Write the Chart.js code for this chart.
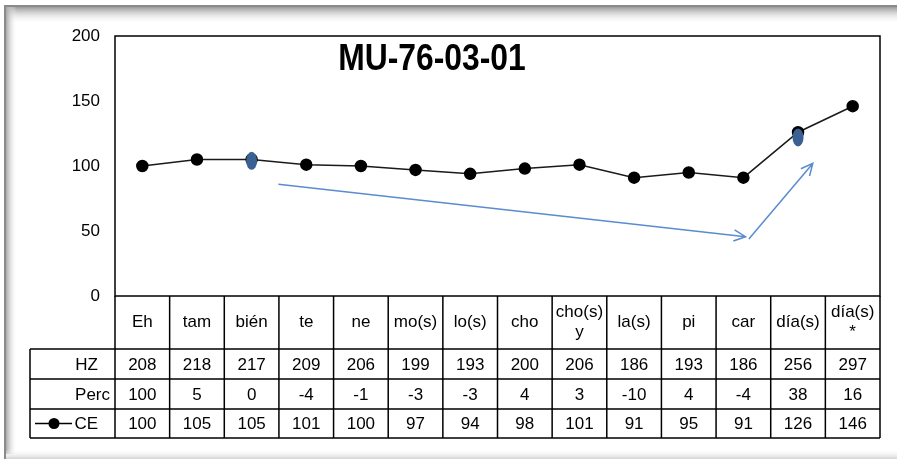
<!DOCTYPE html>
<html>
<head>
<meta charset="utf-8">
<script src="https://cdn.jsdelivr.net/npm/chart.js@4/dist/chart.umd.min.js"></script>
<style>
  html, body { margin: 0; padding: 0; background: #fff; }
  #wrap { width: 897px; height: 459px; }
</style>
</head>
<body>
<div id="wrap"><canvas id="myChart" width="897" height="459"></canvas></div>
<script>
// Datos
const categorias = ['Eh', 'tam', 'bién', 'te', 'ne', 'mo(s)', 'lo(s)', 'cho', ['cho(s)', 'y'], 'la(s)', 'pi', 'car', 'día(s)', ['día(s)', '*']];
const hz = [208, 218, 217, 209, 206, 199, 193, 200, 206, 186, 193, 186, 256, 297];
const perc = [100, 5, 0, -4, -1, -3, -3, 4, 3, -10, 4, -4, 38, 16];
const ce = [100, 105, 105, 101, 100, 97, 94, 98, 101, 91, 95, 91, 126, 146];
const yMin = 0;
const yMax = 200;
const yStep = 50;
const titulo = 'MU-76-03-01';

// marcas azules (indice, valor) y flechas (x1, y1, x2, y2) en unidades de los datos
const marcasIdx = [2, 12];
const marcasVal = [104, 122];
const flechas = [
  [2.49, 86, 11.04, 45.6],
  [11.1, 43.8, 12.27, 102]
];

const ctx = document.getElementById('myChart');
const fuente = "'Liberation Sans', Arial, sans-serif";

/* Marco exterior */
const marcoPlugin = {
  id: 'marco',
  beforeDraw(chart) {
    const c = chart.ctx;
    const w = chart.width, h = chart.height;
    c.save();
    c.fillStyle = '#fff';
    c.fillRect(0, 0, w, h);
    let g = c.createLinearGradient(0, 7, 0, 24);
    g.addColorStop(0, '#9a9a9a');
    g.addColorStop(1, 'rgba(255,255,255,0)');
    c.fillStyle = g;
    c.fillRect(6, 7, w - 6, 17);
    g = c.createLinearGradient(6, 0, 17, 0);
    g.addColorStop(0, '#a8a8a8');
    g.addColorStop(1, 'rgba(255,255,255,0)');
    c.fillStyle = g;
    c.fillRect(6, 7, 11, h - 12);
    g = c.createLinearGradient(0, 449, 0, h);
    g.addColorStop(0, 'rgba(255,255,255,0)');
    g.addColorStop(1, '#d4d4d4');
    c.fillStyle = g;
    c.fillRect(6, 449, w - 6, h - 449);
    c.fillStyle = '#8a8a8a';
    c.fillRect(4, 5, w - 4, 2);
    c.fillRect(4, 5, 2, h - 5);
    c.restore();
  }
};

/* Tabla de datos, título y anotaciones */
const tablaPlugin = {
  id: 'tabla',
  afterDraw(chart) {
    const c = chart.ctx;
    const xs = chart.scales.x;
    const ys = chart.scales.y;
    const area = chart.chartArea;
    const n = categorias.length;
    const bordes = [area.left];
    for (let i = 1; i < n; i++) {
      bordes.push((xs.getPixelForValue(i - 1) + xs.getPixelForValue(i)) / 2);
    }
    bordes.push(area.right);

    const filaCat = area.bottom + 53;
    const alto = [30, 30, 29];
    const filas = [filaCat, filaCat + alto[0], filaCat + alto[0] + alto[1], filaCat + alto[0] + alto[1] + alto[2]];
    const izq = 30;

    c.save();
    c.strokeStyle = '#000';
    c.lineWidth = 1.5;
    // borde del área del gráfico
    c.strokeRect(area.left, area.top, area.right - area.left, area.bottom - area.top);
    // líneas verticales
    c.beginPath();
    bordes.forEach(b => {
      c.moveTo(b, area.bottom);
      c.lineTo(b, filas[3]);
    });
    c.moveTo(izq, filas[0]);
    c.lineTo(izq, filas[3]);
    filas.forEach(f => {
      c.moveTo(izq, f);
      c.lineTo(area.right, f);
    });
    c.stroke();

    // valores
    c.fillStyle = '#000';
    c.font = '17px ' + fuente;
    c.textAlign = 'center';
    c.textBaseline = 'middle';
    const series = [hz, perc, ce];
    series.forEach((s, r) => {
      const yc = (filas[r] + filas[r + 1]) / 2 + 1;
      s.forEach((v, i) => {
        c.fillText(String(v), xs.getPixelForValue(i), yc);
      });
    });
    c.textAlign = 'right';
    c.fillText('HZ', 98, (filas[0] + filas[1]) / 2 + 1);
    c.fillText('Perc', 110, (filas[1] + filas[2]) / 2 + 1);
    c.fillText('CE', 98, (filas[2] + filas[3]) / 2 + 1);
    // clave de la leyenda
    const yl = (filas[2] + filas[3]) / 2;
    c.beginPath();
    c.lineWidth = 1.5;
    c.moveTo(35, yl);
    c.lineTo(72, yl);
    c.stroke();
    c.beginPath();
    c.arc(54, yl, 5.5, 0, Math.PI * 2);
    c.fill();

    // título
    c.save();
    c.translate(432, 60);
    c.scale(0.86, 1);
    c.font = 'bold 37px ' + fuente;
    c.textAlign = 'center';
    c.textBaseline = 'middle';
    c.fillText(titulo, 0, 0);
    c.restore();

    // flechas azules
    c.strokeStyle = '#5b8bd0';
    c.lineWidth = 1.5;
    flechas.forEach(f => {
      const x1 = xs.getPixelForValue(f[0]), y1 = ys.getPixelForValue(f[1]);
      const x2 = xs.getPixelForValue(f[2]), y2 = ys.getPixelForValue(f[3]);
      const ang = Math.atan2(y2 - y1, x2 - x1);
      c.beginPath();
      c.moveTo(x1, y1);
      c.lineTo(x2, y2);
      c.moveTo(x2 - 13 * Math.cos(ang - 0.45), y2 - 13 * Math.sin(ang - 0.45));
      c.lineTo(x2, y2);
      c.lineTo(x2 - 13 * Math.cos(ang + 0.45), y2 - 13 * Math.sin(ang + 0.45));
      c.stroke();
    });

    // marcas azules
    c.fillStyle = '#3a6191';
    marcasIdx.forEach((idx, k) => {
      c.beginPath();
      c.ellipse(xs.getPixelForValue(idx), ys.getPixelForValue(marcasVal[k]), 5.5, 9, 0, 0, Math.PI * 2);
      c.fill();
    });
    c.restore();
  }
};

const config = {
  type: 'line',
  data: {
    labels: categorias,
    datasets: [{
      label: 'CE',
      data: ce,
      borderColor: '#1a1a1a',
      borderWidth: 1.5,
      backgroundColor: '#000',
      pointBackgroundColor: '#000',
      pointBorderColor: '#000',
      pointRadius: 5.5,
      pointHoverRadius: 5.5,
      tension: 0
    }]
  },
  options: {
    responsive: false,
    animation: false,
    events: [],
    layout: {
      padding: { top: 36, right: 17, bottom: 110, left: 0 }
    },
    plugins: {
      legend: { display: false },
      tooltip: { enabled: false },
      title: { display: false }
    },
    scales: {
      x: {
        type: 'category',
        offset: true,
        grid: { display: false },
        border: { display: false },
        ticks: {
          color: '#000',
          padding: 8,
          crossAlign: 'center',
          maxRotation: 0,
          autoSkip: false,
          font: { family: fuente, size: 17 }
        },
        afterFit(scale) { scale.height = 53; }
      },
      y: {
        min: yMin,
        max: yMax,
        grid: { display: false },
        border: { display: false },
        ticks: {
          stepSize: yStep,
          color: '#000',
          padding: 7,
          font: { family: fuente, size: 17 }
        },
        afterFit(scale) { scale.width = 115; }
      }
    }
  },
  plugins: [marcoPlugin, tablaPlugin]
};

new Chart(ctx, config);
</script>
</body>
</html>
